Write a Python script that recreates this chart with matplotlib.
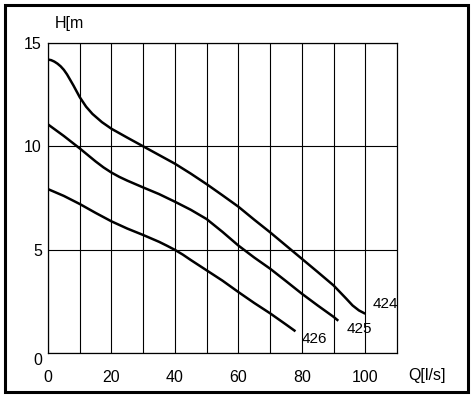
import matplotlib
matplotlib.use("Agg")
import matplotlib.pyplot as plt
from matplotlib.patches import Rectangle

plt.rcParams['font.family'] = ['Liberation Sans', 'DejaVu Sans']

# Data
q_424 = [0, 1, 2, 3, 4, 5, 6, 8, 10, 12, 14, 17, 20, 25, 30, 35, 40, 45, 50, 55, 60, 65, 70, 75, 80, 85, 90, 92, 94, 96, 98, 100]
h_424 = [14.2, 14.17, 14.1, 14.0, 13.87, 13.7, 13.48, 12.95, 12.38, 11.92, 11.57, 11.17, 10.85, 10.42, 10.0, 9.58, 9.16, 8.68, 8.17, 7.63, 7.08, 6.45, 5.84, 5.2, 4.56, 3.92, 3.27, 2.95, 2.63, 2.3, 2.06, 1.9]

q_425 = [0, 5, 10, 15, 17.5, 20, 22.5, 25, 30, 35, 40, 45, 50, 55, 60, 65, 70, 75, 80, 85, 90, 91.5]
h_425 = [11.06, 10.5, 9.9, 9.27, 8.98, 8.73, 8.52, 8.34, 8.01, 7.69, 7.32, 6.93, 6.48, 5.86, 5.2, 4.62, 4.08, 3.48, 2.87, 2.3, 1.75, 1.56]

q_426 = [0, 5, 10, 15, 20, 25, 30, 35, 37.5, 40, 42.5, 45, 50, 55, 60, 65, 70, 75, 78]
h_426 = [7.93, 7.6, 7.21, 6.78, 6.37, 6.02, 5.71, 5.38, 5.19, 4.99, 4.76, 4.5, 4.0, 3.5, 2.95, 2.42, 1.92, 1.38, 1.05]

curve_names = ["424", "425", "426"]
label_pos = [(102.2, 2.2), (94.0, 0.96), (79.8, 0.5)]

x_ticks = list(range(0, 101, 10))
x_ticklabels = [str(v) if v % 20 == 0 else "" for v in x_ticks]
y_ticks = [0, 5, 10, 15]
y_ticklabels = ["0", "5", "10", "15"]

W, H = 476, 396
fig = plt.figure(figsize=(W / 100, H / 100), dpi=100)
ax = fig.add_axes([48 / W, 43 / H, (397 - 48) / W, (353 - 43) / H])

for q, h in [(q_424, h_424), (q_425, h_425), (q_426, h_426)]:
    ax.plot(q, h, color="black", lw=1.8, solid_capstyle="butt",
            solid_joinstyle="round", zorder=3)

for name, (x, y) in zip(curve_names, label_pos):
    ax.text(x, y, name, fontsize=11, ha="left", va="baseline", zorder=4)

ax.set_xlim(0, 110)
ax.set_ylim(0, 15)
ax.set_xticks(x_ticks)
ax.set_xticklabels(x_ticklabels)
ax.set_yticks(y_ticks)
ax.set_yticklabels(y_ticklabels)
ax.tick_params(axis="both", length=0, labelsize=11.5)
ax.tick_params(axis="x", pad=12)
ax.tick_params(axis="y", pad=4.5)
ax.grid(True, color="black", lw=0.8)
ax.set_axisbelow(True)
for s in ax.spines.values():
    s.set_linewidth(0.9)
    s.set_color("black")

ylabs = ax.get_yticklabels()
ylabs[0].set_va("top")

fig.text(55 / W, (H - 28) / H, "H[m", fontsize=11.5, ha="left", va="baseline")
fig.text(408 / W, (H - 380) / H, "Q[l/s]", fontsize=11.5, ha="left", va="baseline")

fig.patches.append(Rectangle((5 / W, 4 / H), (468 - 5) / W, (391 - 4) / H,
                             transform=fig.transFigure, fill=False,
                             edgecolor="black", lw=2.2))

fig.savefig("out.png", dpi=100)
